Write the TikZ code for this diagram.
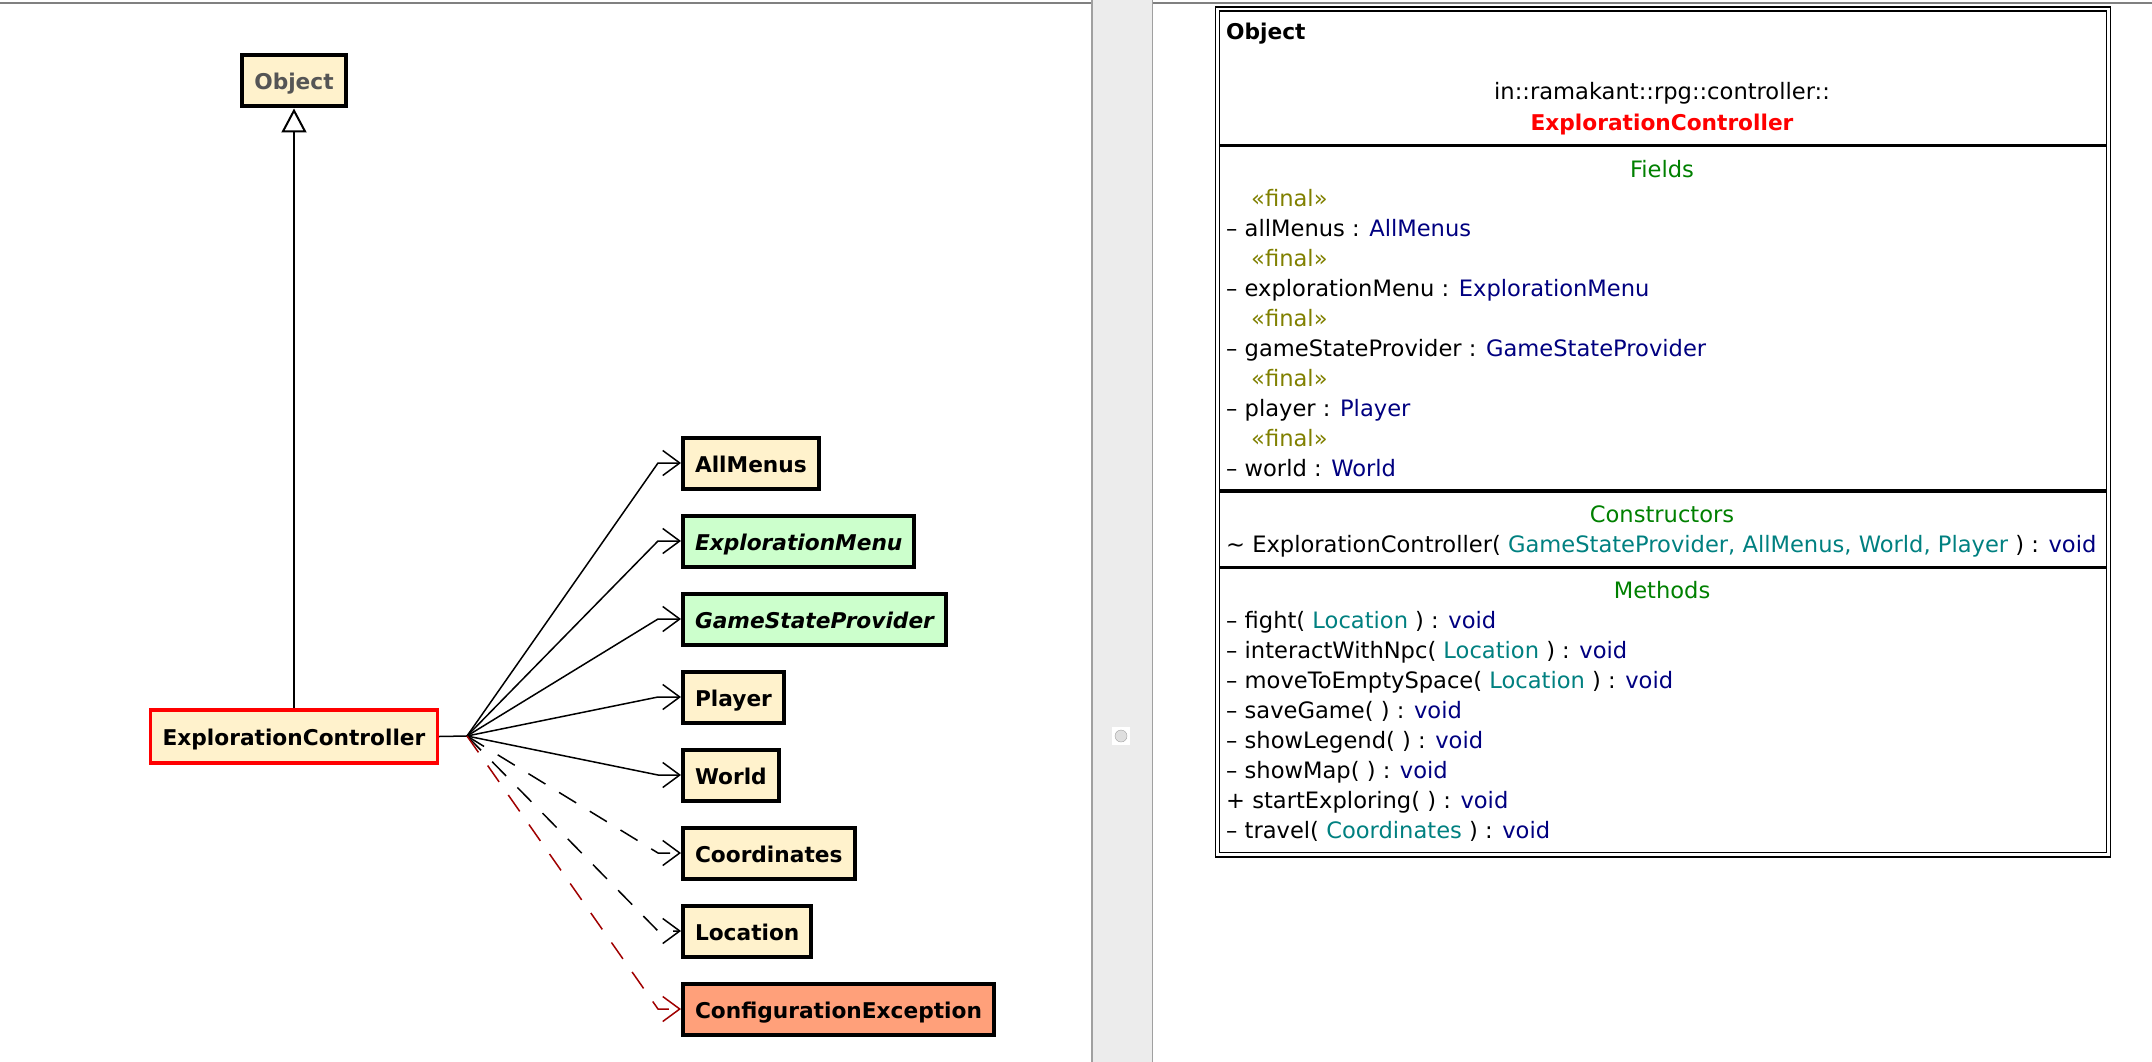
\documentclass[tikz,border=0pt]{standalone}
\usepackage{fontspec}
\setmainfont{DejaVu Sans}[
  BoldFont={DejaVu Sans Bold},
  ItalicFont={DejaVu Sans Oblique},
  BoldItalicFont={DejaVu Sans Bold Oblique}]
\usetikzlibrary{arrows.meta,positioning}

\definecolor{classfill}{HTML}{FFF2CC}
\definecolor{ifacefill}{HTML}{CCFFCC}
\definecolor{excfill}{HTML}{FFA07A}
\definecolor{objgray}{HTML}{555555}
\definecolor{depred}{HTML}{A00000}
\definecolor{secgreen}{HTML}{008000}
\definecolor{stereo}{HTML}{808000}
\definecolor{typenavy}{HTML}{000080}
\definecolor{paramteal}{HTML}{008080}
\definecolor{splitfill}{HTML}{ECECEC}
\definecolor{splitline}{HTML}{A0A0A0}

\newcommand{\tn}[1]{\textcolor{typenavy}{#1}}
\newcommand{\tp}[1]{\textcolor{paramteal}{#1}}

\begin{document}
\begin{tikzpicture}[x=1pt,y=-1pt,
  cls/.style={draw=black, line width=4pt, fill=classfill, inner xsep=12pt,
    minimum height=51pt, text height=18pt, text depth=0pt,
    font=\fontsize{21.7}{26}\selectfont\bfseries},
  iface/.style={cls, fill=ifacefill, font=\fontsize{21.7}{26}\selectfont\bfseries\itshape},
  exc/.style={cls, fill=excfill},
  focus/.style={cls, draw=red, line width=3.5pt, minimum height=53pt},
  target/.style={anchor=west},
  gen/.style={line width=2pt, -{Triangle[length=24pt,width=25pt,fill=white]}},
  assoc/.style={line width=1.5pt, -{Straight Barb[length=17pt,width=25pt]}},
  dep/.style={assoc, dash pattern=on 20pt off 16pt},
  throwdep/.style={dep, draw=depred},
  member/.style={anchor=base west, inner sep=0pt, font=\fontsize{22.6}{30}\selectfont},
  heading/.style={member, anchor=base},
  rule/.style={line width=3.5pt}
  ]
	\useasboundingbox (0,0) rectangle (2152,1062);

	\fill[splitfill] (1091,0) rectangle (1153,1062);
	\draw[splitline, line width=2pt] (1092,0) -- (1092,1062);
	\draw[splitline, line width=1.5pt] (1152.5,0) -- (1152.5,1062);
	\draw[gray, line width=2pt] (0,3) -- (1091,3);
	\draw[gray, line width=2pt] (1153,3) -- (2152,3);
	\fill[white] (1112,727) rectangle (1130,745);
	\draw[splitline, fill=gray!25] (1121,736) circle (6pt);

	\node[cls, text=objgray] (object) at (294,81) {Object};
	\node[focus] (ctrl) at (294,736.5) {ExplorationController};

	\node[cls, target] (allmenus) at (681,463) {AllMenus};
	\node[iface, target] (explmenu) at (681,541) {ExplorationMenu};
	\node[iface, target] (gsprovider) at (681,619) {GameStateProvider};
	\node[cls, target] (player) at (681,697) {Player};
	\node[cls, target] (world) at (681,775) {World};
	\node[cls, target] (coords) at (681,853) {Coordinates};
	\node[cls, target] (location) at (681,931) {Location};
	\node[exc, target] (confexc) at (681,1009) {ConfigurationException};

	\coordinate (fan) at (467,736);

	\draw[gen] (ctrl.north) -- (object.south);
	\draw[line width=1.5pt] (ctrl.east) -- (fan);

	\draw[assoc] (fan) -- ([xshift=-23pt]allmenus.west) -- (allmenus.west);
	\draw[assoc] (fan) -- ([xshift=-23pt]explmenu.west) -- (explmenu.west);
	\draw[assoc] (fan) -- ([xshift=-23pt]gsprovider.west) -- (gsprovider.west);
	\draw[assoc] (fan) -- ([xshift=-23pt]player.west) -- (player.west);
	\draw[assoc] (fan) -- ([xshift=-23pt]world.west) -- (world.west);
	\draw[dep] (fan) -- ([xshift=-23pt]coords.west) -- (coords.west);
	\draw[dep] (fan) -- ([xshift=-23pt]location.west) -- (location.west);
	\draw[throwdep] (fan) -- ([xshift=-23pt]confexc.west) -- (confexc.west);

	\draw[line width=1.5pt] (1215.4,6.8) rectangle (2110.4,856.8);
	\draw[line width=1.5pt] (1219.4,10.8) rectangle (2106.4,852.7);
	\draw[rule] (1219.4,145.6) -- (2106.4,145.6);
	\draw[rule] (1219.4,491) -- (2106.4,491);
	\draw[rule] (1219.4,567.6) -- (2106.4,567.6);

	\node[member, font=\fontsize{21.7}{26}\selectfont\bfseries] (supername) at (1226,40) {Object};
	\node[heading] (package) at (1662,100) {in::ramakant::rpg::controller::};
	\node[heading, text=red, font=\fontsize{21.7}{26}\selectfont\bfseries] (classname) at (1662,131) {ExplorationController};

	\node[heading, text=secgreen] (fields) at (1662,177) {Fields};
	\node[member, text=stereo] (fin1) at (1251,206) {«final»};
	\node[member] (fld1) at (1226,236) {– allMenus : \tn{AllMenus}};
	\node[member, text=stereo] (fin2) at (1251,266) {«final»};
	\node[member] (fld2) at (1226,296) {– explorationMenu : \tn{ExplorationMenu}};
	\node[member, text=stereo] (fin3) at (1251,326) {«final»};
	\node[member] (fld3) at (1226,356) {– gameStateProvider : \tn{GameStateProvider}};
	\node[member, text=stereo] (fin4) at (1251,386) {«final»};
	\node[member] (fld4) at (1226,416) {– player : \tn{Player}};
	\node[member, text=stereo] (fin5) at (1251,446) {«final»};
	\node[member] (fld5) at (1226,476) {– world : \tn{World}};

	\node[heading, text=secgreen] (ctors) at (1662,522.5) {Constructors};
	\node[member] (ctor1) at (1226,552) {\textasciitilde\ ExplorationController( \tp{GameStateProvider, AllMenus, World, Player} ) : \tn{void}};

	\node[heading, text=secgreen] (methods) at (1662,598.5) {Methods};
	\node[member] (mth1) at (1226,628) {– fight( \tp{Location} ) : \tn{void}};
	\node[member] (mth2) at (1226,658) {– interactWithNpc( \tp{Location} ) : \tn{void}};
	\node[member] (mth3) at (1226,688) {– moveToEmptySpace( \tp{Location} ) : \tn{void}};
	\node[member] (mth4) at (1226,718) {– saveGame( ) : \tn{void}};
	\node[member] (mth5) at (1226,748) {– showLegend( ) : \tn{void}};
	\node[member] (mth6) at (1226,778) {– showMap( ) : \tn{void}};
	\node[member] (mth7) at (1226,808) {+ startExploring( ) : \tn{void}};
	\node[member] (mth8) at (1226,838) {– travel( \tp{Coordinates} ) : \tn{void}};
\end{tikzpicture}
\end{document}
